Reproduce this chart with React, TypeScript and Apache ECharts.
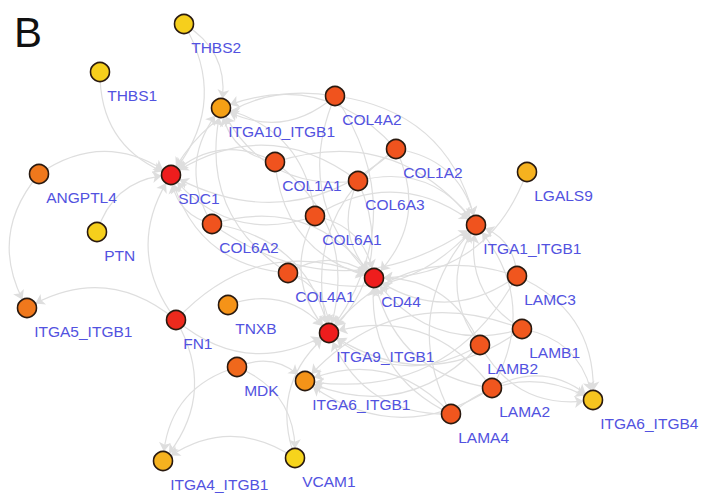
import React, { useEffect, useRef } from "react";
import * as echarts from "echarts";

const nodeNames = [
  "THBS2", "THBS1", "ITGA10_ITGB1", "COL4A2", "ANGPTL4", "SDC1", "COL1A1", "COL1A2",
  "LGALS9", "COL6A3", "PTN", "COL6A2", "COL6A1", "ITGA1_ITGB1", "COL4A1", "CD44",
  "LAMC3", "ITGA5_ITGB1", "FN1", "TNXB", "ITGA9_ITGB1", "LAMB1", "LAMB2", "MDK",
  "ITGA6_ITGB1", "LAMA2", "LAMA4", "ITGA6_ITGB4", "ITGA4_ITGB1", "VCAM1",
];

// layout coordinates of each node (network layout in plot units)
const nodeLayout: [number, number][] = [
  [184, 24], [100, 72], [221, 108], [335, 96], [39, 174], [171, 175], [275, 162], [396, 149],
  [527, 172], [358, 181], [97, 232], [212, 224], [315, 216], [476, 225], [288, 273], [374, 278],
  [517, 276], [27, 308], [176, 320], [228, 305], [329, 333], [522, 329], [480, 345], [237, 367],
  [305, 381], [492, 388], [451, 414], [593, 400], [163, 461], [295, 458],
];

const nodeColor = [
  "#f6cf1c", "#f6cf1c", "#f5a015", "#f0531e", "#f0781c", "#ee1d1d", "#f0531e", "#f0531e",
  "#f6b21f", "#f0531e", "#f6cf1c", "#f0531e", "#f0531e", "#f0531e", "#f0531e", "#ee1d1d",
  "#f0561e", "#f0781c", "#ee2a1d", "#f59318", "#ee1d1d", "#f0581e", "#f0561e", "#f0681c",
  "#f59318", "#f0561e", "#f0561e", "#f6c41f", "#f6b21f", "#f6d41c",
];

const collagens = ["COL1A1", "COL1A2", "COL4A1", "COL4A2", "COL6A1", "COL6A2", "COL6A3"];
const collagenReceptors = ["SDC1", "ITGA10_ITGB1", "ITGA1_ITGB1", "CD44", "ITGA9_ITGB1"];
const laminins = ["LAMC3", "LAMB1", "LAMB2", "LAMA2", "LAMA4"];
const lamininReceptors = ["CD44", "ITGA1_ITGB1", "ITGA6_ITGB1", "ITGA6_ITGB4", "ITGA9_ITGB1"];
const otherLinks: [string, string][] = [
  ["THBS1", "SDC1"], ["THBS2", "SDC1"], ["ANGPTL4", "SDC1"], ["ANGPTL4", "ITGA5_ITGB1"],
  ["PTN", "SDC1"], ["FN1", "SDC1"], ["FN1", "ITGA5_ITGB1"], ["FN1", "ITGA4_ITGB1"],
  ["FN1", "CD44"], ["FN1", "ITGA9_ITGB1"], ["TNXB", "ITGA9_ITGB1"], ["MDK", "ITGA6_ITGB1"],
  ["MDK", "ITGA4_ITGB1"], ["MDK", "VCAM1"], ["LGALS9", "CD44"], ["VCAM1", "ITGA4_ITGB1"],
  ["VCAM1", "ITGA9_ITGB1"], ["THBS2", "ITGA10_ITGB1"],
];

export default function App() {
  const ref = useRef<HTMLDivElement>(null);
  useEffect(() => {
    if (!ref.current) return;
    const chart = echarts.init(ref.current, null, { renderer: "svg" });
    const links: any[] = [];
    collagens.forEach((s) => collagenReceptors.forEach((t) => links.push({ source: s, target: t })));
    laminins.forEach((s) => lamininReceptors.forEach((t) => links.push({ source: s, target: t })));
    otherLinks.forEach(([s, t]) => links.push({ source: s, target: t }));
    links.forEach((l, i) => {
      l.lineStyle = { curveness: i % 3 === 0 ? -0.35 : 0.35 };
    });
    const data = nodeNames.map((n, i) => ({
      name: n,
      value: nodeLayout[i],
      itemStyle: { color: nodeColor[i] },
    }));
    chart.setOption({
      animation: false,
      backgroundColor: "#ffffff",
      title: {
        text: "B",
        left: 9,
        top: 6,
        textStyle: { fontSize: 42, fontWeight: "normal", color: "#111", fontFamily: "Liberation Sans, Arial, sans-serif" },
      },
      grid: { left: 0, right: 0, top: 0, bottom: 0 },
      xAxis: { type: "value", min: 0, max: 716, show: false },
      yAxis: { type: "value", min: 0, max: 494, inverse: true, show: false },
      series: [
        {
          type: "graph",
          coordinateSystem: "cartesian2d",
          layout: "none",
          symbolSize: 19,
          data,
          links,
          edgeSymbol: ["none", "arrow"],
          edgeSymbolSize: [0, 9],
          itemStyle: { borderColor: "#2a1a10", borderWidth: 1.6 },
          lineStyle: { color: "#dedede", width: 1.2, opacity: 1 },
          label: {
            show: true,
            position: [17.5, 25.5],
            align: "left",
            verticalAlign: "top",
            color: "#5252e0",
            fontSize: 15.5,
            fontFamily: "Liberation Sans, Arial, sans-serif",
          },
          emphasis: { disabled: true },
        },
      ],
    });
    return () => chart.dispose();
  }, []);
  return (
    <div
      ref={ref}
      style={{ position: "fixed", left: 0, top: 0, width: 716, height: 494, background: "#fff" }}
    />
  );
}
